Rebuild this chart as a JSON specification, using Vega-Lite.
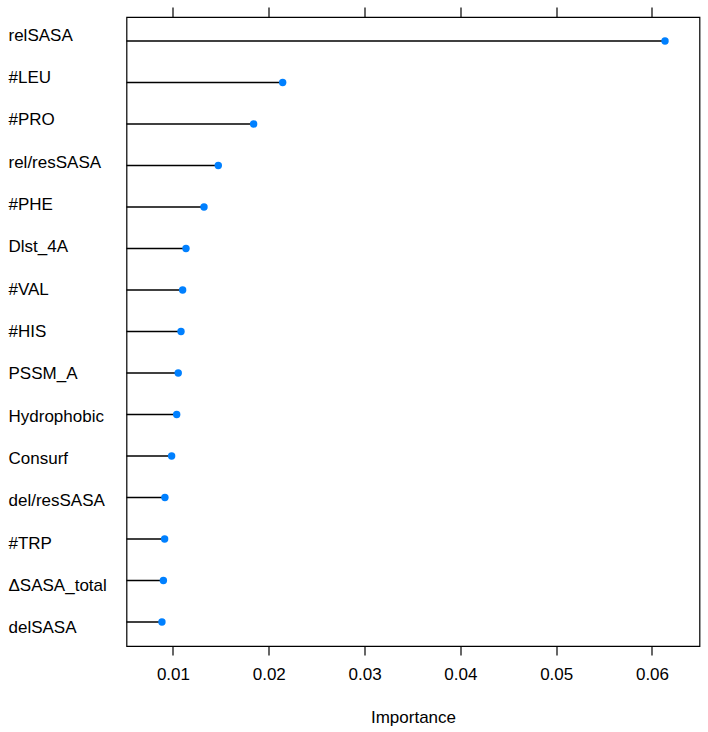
{
  "$schema": "https://vega.github.io/schema/vega-lite/v6.json",
  "width": 573,
  "height": 629,
  "autosize": {"type": "none"},
  "padding": {"left": 126.5, "top": 17, "right": 8.5, "bottom": 86},
  "background": "white",
  "config": {
    "view": {"stroke": "#000000", "strokeWidth": 1.2},
    "font": "Liberation Sans",
    "axis": {
      "domain": false,
      "grid": false,
      "labelFont": "Liberation Sans",
      "titleFont": "Liberation Sans",
      "labelFontSize": 17,
      "titleFontSize": 17,
      "titleFontWeight": "normal",
      "labelColor": "#000000",
      "titleColor": "#000000",
      "tickColor": "#000000",
      "tickWidth": 1.2
    }
  },
  "data": {
    "values": [
      {"feature": "relSASA", "importance": 0.06136},
      {"feature": "#LEU", "importance": 0.02145},
      {"feature": "#PRO", "importance": 0.01842},
      {"feature": "rel/resSASA", "importance": 0.01473},
      {"feature": "#PHE", "importance": 0.01324},
      {"feature": "Dlst_4A", "importance": 0.01136},
      {"feature": "#VAL", "importance": 0.01101},
      {"feature": "#HIS", "importance": 0.01084},
      {"feature": "PSSM_A", "importance": 0.01055},
      {"feature": "Hydrophobic", "importance": 0.01039},
      {"feature": "Consurf", "importance": 0.00986},
      {"feature": "del/resSASA", "importance": 0.00916},
      {"feature": "#TRP", "importance": 0.00913},
      {"feature": "ΔSASA_total", "importance": 0.009},
      {"feature": "delSASA", "importance": 0.00885}
    ]
  },
  "layer": [
    {
      "mark": {"type": "rule", "color": "#000000", "strokeWidth": 1.4},
      "encoding": {
        "y": {
          "field": "feature", "type": "nominal", "sort": null,
          "scale": {"type": "point", "padding": 0.578},
          "axis": null
        },
        "x": {
          "field": "importance", "type": "quantitative",
          "scale": {"domain": [0.00515, 0.06496], "nice": false, "zero": false, "clamp": true},
          "axis": {
            "orient": "bottom",
            "values": [0.01, 0.02, 0.03, 0.04, 0.05, 0.06],
            "format": ".2f",
            "tickSize": 9,
            "labelPadding": 11.5,
            "title": "Importance",
            "titleBaseline": "alphabetic",
            "titleY": 76
          }
        },
        "x2": {"datum": 0}
      }
    },
    {
      "mark": {"type": "point", "filled": true, "size": 55, "color": "#0080ff", "opacity": 1},
      "encoding": {
        "y": {
          "field": "feature", "type": "nominal", "sort": null,
          "scale": {"type": "point", "padding": 0.578},
          "axis": null
        },
        "x": {
          "field": "importance", "type": "quantitative",
          "axis": {
            "orient": "top",
            "values": [0.01, 0.02, 0.03, 0.04, 0.05, 0.06],
            "labels": false,
            "tickSize": 10,
            "title": null
          }
        }
      }
    },
    {
      "mark": {"type": "point", "opacity": 0},
      "encoding": {
        "y": {
          "field": "feature", "type": "nominal", "sort": null,
          "scale": {"type": "point", "padding": 0.4325},
          "axis": {
            "orient": "left",
            "title": null,
            "ticks": false,
            "tickSize": 0,
            "labelAlign": "left",
            "labelBaseline": "middle",
            "labelPadding": 118.5,
            "labelLimit": 200
          }
        },
        "x": {"field": "importance", "type": "quantitative", "axis": null}
      }
    }
  ],
  "resolve": {"scale": {"y": "independent"}, "axis": {"x": "independent", "y": "independent"}}
}
